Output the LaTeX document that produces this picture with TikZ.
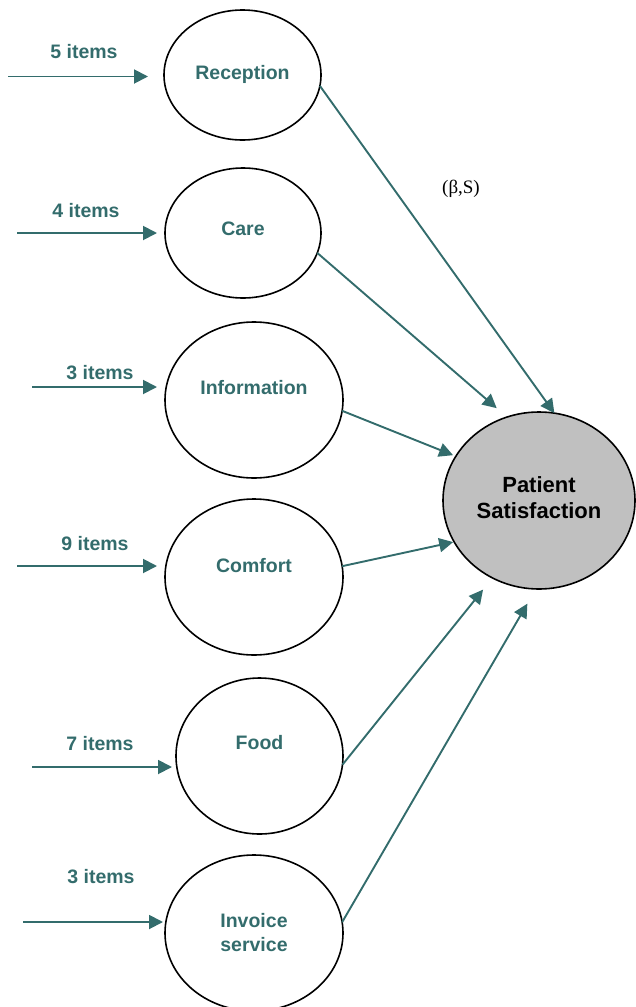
\documentclass[tikz,border=0pt]{standalone}
\usepackage{fontspec}
\setmainfont{Liberation Sans}
\newfontfamily\serifrm{Liberation Serif}
\usetikzlibrary{arrows.meta,shapes.geometric}
\definecolor{tealdark}{RGB}{51,108,108}
\definecolor{psgray}{RGB}{192,192,192}
\begin{document}
\begin{tikzpicture}[x=1pt,y=-1pt,
  oval/.style={ellipse,draw=black,line width=1.6pt,inner sep=0pt,outer sep=0pt},
  lbl/.style={font=\fontsize{19.5}{24}\selectfont\bfseries,text=tealdark,align=center,inner sep=0pt,anchor=base},
  itemlbl/.style={font=\fontsize{19.5}{24}\selectfont\bfseries,text=tealdark,inner sep=0pt,anchor=base},
  conn/.style={draw=tealdark,line width=1.9pt,-{Triangle[length=14pt,width=14pt]}}]
\useasboundingbox (0,0) rectangle (635,1007);

% ellipses
\node[oval,minimum width=157pt,minimum height=130pt] (rec) at (242.5,75) {};
\node[oval,minimum width=156pt,minimum height=130pt] (care) at (243,233) {};
\node[oval,minimum width=178pt,minimum height=156pt] (info) at (254,400) {};
\node[oval,minimum width=178pt,minimum height=156pt] (comf) at (254,577) {};
\node[oval,minimum width=167pt,minimum height=156pt] (food) at (259.5,756) {};
\node[oval,minimum width=178pt,minimum height=156pt] (inv) at (254,933) {};
\node[oval,fill=psgray,minimum width=192pt,minimum height=177pt] (ps) at (539,500.5) {};

% labels in ellipses
\node[lbl] (recT) at (242.5,79) {Reception};
\node[lbl] (careT) at (243,235) {Care};
\node[lbl] (infoT) at (254,394) {Information};
\node[lbl] (comfT) at (254,572) {Comfort};
\node[lbl] (foodT) at (259.5,749) {Food};
\node[lbl] (invT) at (254,951) {Invoice\\service};
\node[lbl,text=black,font=\fontsize{22}{26}\selectfont\bfseries] (psT) at (539,518) {Patient\\Satisfaction};

% item labels
\node[itemlbl] (i1) at (84,58) {5 items};
\node[itemlbl] (i2) at (86,217) {4 items};
\node[itemlbl] (i3) at (100,379) {3 items};
\node[itemlbl] (i4) at (95,550) {9 items};
\node[itemlbl] (i5) at (100,750) {7 items};
\node[itemlbl] (i6) at (101,883) {3 items};

\node[font=\serifrm\fontsize{19}{22}\selectfont,inner sep=0pt,anchor=base] (beta) at (461,193) {(β,S)};

% input arrows
\coordinate (a1) at (8,76.5);
\coordinate (a2) at (17,233);
\coordinate (a3) at (32,387);
\coordinate (a4) at (17,566);
\coordinate (a5) at (32,767);
\coordinate (a6) at (23,922);
\draw[conn,shorten >=16pt] (a1) -- (a1 -| rec.west);
\draw[conn,shorten >=8pt] (a2) -- (a2 -| care.west);
\draw[conn,shorten >=8pt] (a3) -- (a3 -| info.west);
\draw[conn,shorten >=8pt] (a4) -- (a4 -| comf.west);
\draw[conn,shorten >=4pt] (a5) -- (a5 -| food.west);
\draw[conn,shorten >=2pt] (a6) -- (a6 -| inv.west);

% output arrows
\draw[conn] (rec.-8) -- (ps.80);
\draw[conn,shorten >=13.6pt] (care.-15) -- (ps.111);
\draw[conn,shorten >=3pt] (info.-7) -- (ps.152);
\draw[conn,shorten >=1pt] (comf.7) -- (ps.206);
\draw[conn,shorten >=15pt] (food.-6) -- (ps.239);
\draw[conn,shorten >=17pt] (inv.7) -- (ps.268.5);
\end{tikzpicture}
\end{document}
